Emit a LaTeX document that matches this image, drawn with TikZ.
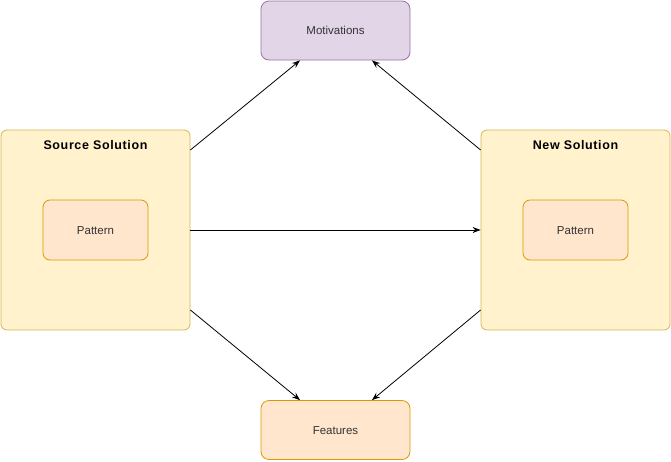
\documentclass[tikz,border=0pt]{standalone}
\usepackage{fontspec}
\setmainfont{Liberation Sans}
\usetikzlibrary{arrows.meta}
\definecolor{ylwfill}{HTML}{FFF2CC}
\definecolor{ylwline}{HTML}{D6B656}
\definecolor{orgfill}{HTML}{FFE6CC}
\definecolor{orgline}{HTML}{D79B00}
\definecolor{purfill}{HTML}{E1D5E7}
\definecolor{purline}{HTML}{9673A6}
\definecolor{txt}{HTML}{333333}
\tikzset{
  solbox/.style={draw=ylwline, fill=ylwfill, rounded corners=6pt, line width=0.8pt, minimum width=189pt, minimum height=200pt, inner sep=0pt},
  patbox/.style={draw=orgline, fill=orgfill, rounded corners=7pt, line width=0.8pt, minimum width=105pt, minimum height=60pt, inner sep=0pt, font=\fontsize{11.5}{13}\selectfont, text=txt, text depth=0pt, text height=8.5pt},
  topbox/.style={rounded corners=8pt, line width=0.8pt, minimum width=149pt, minimum height=59pt, inner sep=0pt, font=\fontsize{11.5}{13}\selectfont, text=txt, text depth=0pt, text height=8.5pt},
  title/.style={font=\fontsize{12.5}{14}\selectfont\bfseries\addfontfeatures{LetterSpace=5}, text=black, inner sep=0pt},
  conn/.style={-{Stealth[length=8pt,width=6pt]}, line width=0.8pt}
}
\begin{document}
\begin{tikzpicture}[x=1pt,y=-1pt]
\useasboundingbox (0,0) rectangle (671,461);
\node[solbox] (src) at (95.5,230) {};
\node[solbox] (new) at (575.5,230) {};
\node[title] (srct) at (95.5,145) {Source Solution};
\node[title] (newt) at (575.5,145) {New Solution};
\node[patbox] (p1) at (95.5,230) {Pattern};
\node[patbox] (p2) at (575.5,230) {Pattern};
\node[topbox, draw=purline, fill=purfill] (mot) at (335.5,30.5) {Motivations};
\node[topbox, draw=orgline, fill=orgfill] (feat) at (335.5,430) {Features};
\draw[conn] (src.east |- 0,150) -- (mot.south -| 300,0);
\draw[conn] (new.west |- 0,150) -- (mot.south -| 372,0);
\draw[conn] (src.east) -- (new.west);
\draw[conn] (src.east |- 0,310) -- (feat.north -| 300,0);
\draw[conn] (new.west |- 0,310) -- (feat.north -| 372,0);
\end{tikzpicture}
\end{document}
